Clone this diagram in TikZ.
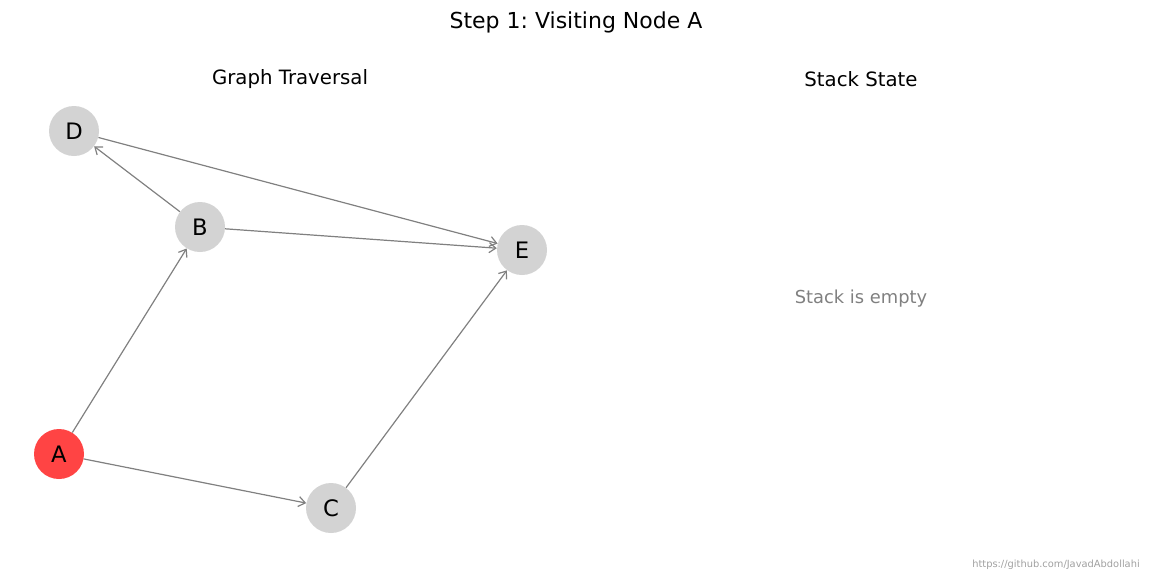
\documentclass[tikz,border=0pt]{standalone}
\usepackage{fontspec}
\setmainfont{DejaVu Sans}
\frenchspacing
\usetikzlibrary{arrows.meta}

\definecolor{nodegray}{RGB}{211,211,211}
\definecolor{visitred}{RGB}{255,68,68}
\definecolor{edgegray}{RGB}{128,128,128}
\definecolor{markgray}{RGB}{160,160,160}

\tikzset{
  vertex/.style={circle, fill=nodegray, minimum size=37.5pt, inner sep=0pt,
                 font=\fontsize{17}{18}\selectfont},
  visited/.style={vertex, fill=visitred},
  link/.style={draw=edgegray, line width=0.9pt,
               -{Straight Barb[length=5pt,width=7.5pt]}}
}

\begin{document}
\begin{tikzpicture}[x=0.75pt, y=-0.75pt]
\begin{scope}

  \useasboundingbox (0,0) rectangle (1152,576);

  % titles
  \node (title) at (576,22) {\fontsize{16.5}{18}\selectfont Step 1: Visiting Node A};
  \node (graphtitle) at (290,79) {\fontsize{14.8}{16}\selectfont Graph Traversal};
  \node (stacktitle) at (861,79) {\fontsize{14.8}{16}\selectfont Stack State};

  % graph nodes
  \node[vertex]  (D) at (74,131) {D};
  \node[vertex]  (B) at (200,227) {B};
  \node[vertex]  (E) at (522,250) {E};
  \node[visited] (A) at (59,454) {A};
  \node[vertex]  (C) at (331,508) {C};

  % edges
  \path[link] (A) -- (B);
  \path[link] (A) -- (C);
  \path[link] (B) -- (D);
  \path[link] (B) -- (E);
  \path[link] (D) -- (E);
  \path[link] (C) -- (E);

  % stack panel
  \node[text=edgegray] (stackempty) at (861,299)
       {\fontsize{13.4}{15}\selectfont Stack is empty};

  \node[text=markgray, anchor=east, inner sep=0pt] (credit) at (1140,565)
       {\fontsize{7.4}{8}\selectfont https://github.com/JavadAbdollahi};

\end{scope}
\end{tikzpicture}
\end{document}
